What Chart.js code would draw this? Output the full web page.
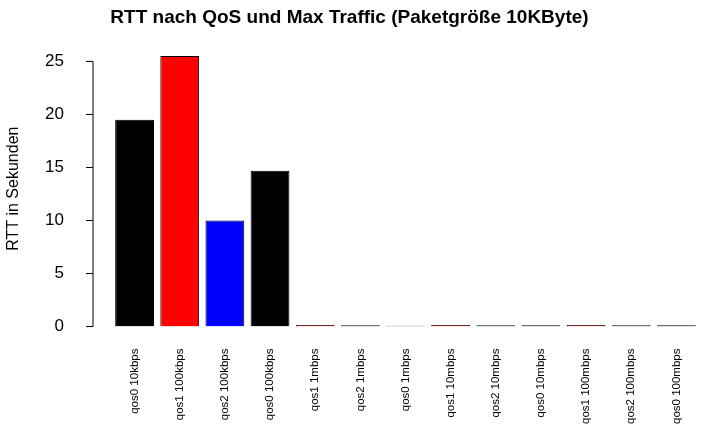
<!DOCTYPE html>
<html>
<head>
<meta charset="utf-8">
<script src="https://cdn.jsdelivr.net/npm/chart.js@4/dist/chart.umd.min.js"></script>
<style>
  body { margin: 0; background: #fff; }
  #wrap { width: 713px; height: 440px; }
</style>
</head>
<body>
<div id="wrap"><canvas id="c"></canvas></div>
<script>
const categories = ['qos0 10kbps', 'qos1 100kbps', 'qos2 100kbps', 'qos0 100kbps',
  'qos1 1mbps', 'qos2 1mbps', 'qos0 1mbps', 'qos1 10mbps', 'qos2 10mbps',
  'qos0 10mbps', 'qos1 100mbps', 'qos2 100mbps', 'qos0 100mbps'];
const rtt = [19.5, 25.5, 10.0, 14.7, 0.15, 0.12, 0.08, 0.15, 0.12, 0.12, 0.15, 0.12, 0.12];
const barColors = ['#000000', '#ff0000', '#0000ff', '#000000', '#ff0000', '#0000ff', '#000000',
  '#ff0000', '#0000ff', '#000000', '#ff0000', '#0000ff', '#000000'];
const yTicks = [0, 5, 10, 15, 20, 25];

Chart.defaults.font.family = 'Liberation Sans, Arial, sans-serif';
Chart.defaults.color = '#000';

const rAxis = {
  id: 'rAxis',
  afterDraw(chart) {
    const y = chart.scales.y, ctx = chart.ctx, x = 93;
    ctx.save();
    ctx.strokeStyle = '#000';
    ctx.lineWidth = 1;
    ctx.beginPath();
    ctx.moveTo(x, y.getPixelForValue(yTicks[0]));
    ctx.lineTo(x, y.getPixelForValue(yTicks[yTicks.length - 1]));
    yTicks.forEach(t => {
      const py = y.getPixelForValue(t);
      ctx.moveTo(x - 7, py);
      ctx.lineTo(x, py);
    });
    ctx.stroke();
    ctx.restore();
  }
};

new Chart(document.getElementById('c'), {
  type: 'bar',
  data: {
    labels: categories,
    datasets: [{ data: rtt, backgroundColor: barColors, borderColor: '#000', borderWidth: 1,
      barPercentage: 0.86, categoryPercentage: 1 }]
  },
  options: {
    responsive: true, maintainAspectRatio: false, animation: false,
    layout: { padding: { top: 0, right: 14, bottom: 2, left: 0 } },
    plugins: {
      legend: { display: false },
      tooltip: { enabled: false },
      title: { display: true, text: 'RTT nach QoS und Max Traffic (Paketgröße 10KByte)',
        font: { size: 19, weight: 'bold' }, padding: { top: 6, bottom: 22 } }
    },
    scales: {
      x: {
        grid: { display: false }, border: { display: false },
        ticks: { minRotation: 90, maxRotation: 90, autoSkip: false, font: { size: 11.5 }, padding: 14 }
      },
      y: {
        min: 0, max: 26,
        afterFit(s) { s.width = 112; },
        afterBuildTicks(s) { s.ticks = yTicks.map(v => ({ value: v })); },
        grid: { display: false }, border: { display: false },
        ticks: { font: { size: 17 }, padding: 40 },
        title: { display: true, text: 'RTT in Sekunden', font: { size: 16 }, padding: { bottom: 0 } }
      }
    }
  },
  plugins: [rAxis]
});
</script>
</body>
</html>
